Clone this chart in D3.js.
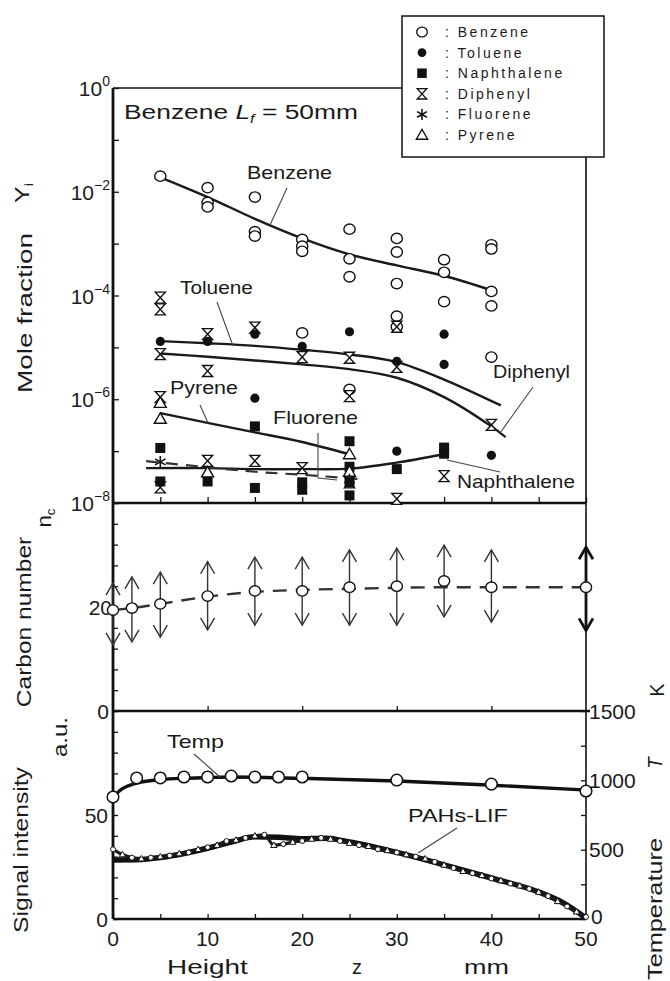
<!DOCTYPE html>
<html><head><meta charset="utf-8">
<script src="https://cdn.jsdelivr.net/npm/d3@7"></script>
<style>
body{margin:0;background:#fff}
svg{display:block}
text{font-family:"Liberation Sans",Arial,sans-serif;fill:#1a1a1a}
</style>
</head><body>
<svg id="c" width="670" height="981"></svg>
<script>
// ---------------- DATA ----------------
const xTicks = [0, 10, 20, 30, 40, 50];
const xMinorTicks = [0, 5, 10, 15, 20, 25, 30, 35, 40, 45, 50];
const topTickVals = [1e-8, 1e-7, 1e-6, 1e-5, 1e-4, 1e-3, 1e-2, 1e-1, 1];
const topLabelVals = [1e-8, 1e-6, 1e-4, 1e-2, 1];
const topLabelExp = ["\u22128", "\u22126", "\u22124", "\u22122", "0"];
const midLabelVals = [0, 20];
const sigLabelVals = [0, 50];
const tempLabelVals = [0, 500, 1000, 1500];

const legendNames = ["Benzene", "Toluene", "Naphthalene", "Diphenyl", "Fluorene", "Pyrene"];
const legendSymbols = ["circle", "dot", "square", "hourglass", "star", "triangle"];

// Mole fraction data (z in mm, Y_i)
const benzeneZ = [5, 10, 10, 10, 15, 15, 15, 20, 20, 20, 20, 25, 25, 25, 25, 30, 30, 30, 30, 30, 35, 35, 35, 40, 40, 40, 40, 40];
const benzeneY = [2.0e-2, 1.2e-2, 6.2e-3, 5.1e-3, 7.9e-3, 1.7e-3, 1.4e-3, 1.2e-3, 8.9e-4, 7.1e-4, 1.9e-5, 1.9e-3, 5.1e-4, 2.3e-4, 1.55e-6, 1.26e-3, 6.9e-4, 1.7e-4, 4.0e-5, 2.5e-5, 4.9e-4, 2.8e-4, 7.6e-5, 9.5e-4, 7.9e-4, 1.2e-4, 6.3e-5, 6.5e-6];
const tolueneZ = [5, 10, 15, 15, 20, 25, 30, 30, 35, 35, 40];
const tolueneY = [1.3e-5, 1.3e-5, 1.8e-5, 1.05e-6, 1.05e-5, 2.0e-5, 5.4e-6, 1.0e-7, 1.8e-5, 4.7e-6, 8.3e-8];
const naphthaleneZ = [5, 5, 10, 15, 15, 20, 20, 25, 25, 25, 25, 30, 35, 35];
const naphthaleneY = [1.15e-7, 2.6e-8, 2.6e-8, 3.0e-7, 1.95e-8, 2.5e-8, 1.8e-8, 1.55e-7, 5.0e-8, 2.5e-8, 1.4e-8, 4.5e-8, 1.17e-7, 8.9e-8];
const diphenylZ = [5, 5, 5, 5, 5, 10, 10, 10, 15, 15, 20, 20, 25, 25, 25, 30, 30, 30, 35, 40];
const diphenylY = [9.1e-5, 5.4e-5, 7.4e-6, 1.1e-6, 2.0e-8, 1.8e-5, 3.5e-6, 6.5e-8, 2.4e-5, 6.5e-8, 6.5e-6, 4.7e-8, 6.3e-6, 1.15e-6, 2.5e-8, 2.5e-5, 4.2e-6, 1.2e-8, 3.3e-8, 3.2e-7];
const fluoreneZ = [5, 25];
const fluoreneY = [6.2e-8, 2.8e-8];
const pyreneZ = [5, 5, 10, 25, 25];
const pyreneY = [8.5e-7, 4.2e-7, 3.9e-8, 8.7e-8, 4.0e-8];

// Fitted curves
const benzeneFitZ = [5, 10, 15, 20, 25, 30, 35, 40];
const benzeneFitY = [1.9e-2, 7.9e-3, 3.0e-3, 1.26e-3, 6.2e-4, 3.8e-4, 2.4e-4, 1.26e-4];
const tolueneFitZ = [5, 10, 15, 20, 25, 30, 35, 41];
const tolueneFitY = [1.32e-5, 1.2e-5, 1.07e-5, 9.0e-6, 7.3e-6, 5.2e-6, 2.4e-6, 7.6e-7];
const diphenylFitZ = [5, 10, 15, 20, 25, 30, 35, 40, 41.5];
const diphenylFitY = [7.6e-6, 6.6e-6, 5.6e-6, 4.7e-6, 3.8e-6, 2.6e-6, 1.1e-6, 3.0e-7, 1.86e-7];
const pyreneFitZ = [5, 10, 15, 20, 25];
const pyreneFitY = [5.4e-7, 3.5e-7, 2.3e-7, 1.5e-7, 8.7e-8];
const naphthaleneFitZ = [3.5, 10, 15, 20, 25, 30, 35];
const naphthaleneFitY = [4.7e-8, 4.7e-8, 4.5e-8, 4.5e-8, 4.6e-8, 6.0e-8, 8.7e-8];
const fluoreneFitZ = [3.5, 10, 15, 20, 26];
const fluoreneFitY = [6.4e-8, 4.9e-8, 4.0e-8, 3.5e-8, 2.9e-8];

// Carbon number
const carbonZ = [0, 2, 5, 10, 15, 20, 25, 30, 35, 40, 50];
const carbonN = [19.4, 19.8, 20.6, 22.1, 23.1, 23.1, 23.8, 24.0, 25.0, 23.8, 23.8];
const carbonUp = [24.6, 25.8, 26.7, 28.7, 29.6, 29.6, 31.0, 31.3, 31.9, 31.0, 31.5];
const carbonDown = [12.7, 13.3, 14.2, 15.6, 16.5, 16.5, 16.5, 16.5, 18.1, 17.1, 15.5];
const carbonLine = [19.4, 19.8, 20.6, 22.0, 22.9, 23.3, 23.5, 23.7, 23.8, 23.8, 23.8];

// Temperature (K)
const tempZ = [0, 2.5, 5, 7.5, 10, 12.5, 15, 17.5, 20, 30, 40, 50];
const tempT = [880, 1017, 1017, 1024, 1024, 1031, 1024, 1024, 1024, 1002, 973, 923];
const tempFitZ = [0, 1, 2, 3, 5, 7.5, 10, 12.5, 15, 20, 30, 40, 50];
const tempFitT = [880, 940, 970, 988, 1005, 1015, 1020, 1024, 1022, 1014, 995, 965, 930];

// PAHs-LIF signal (a.u.)
const lifZ = [0, 1, 2, 3, 4, 5, 6, 7, 8, 9, 10, 11, 12, 13, 14, 15, 16, 17, 18, 19, 20, 21, 22, 23, 24, 25, 26, 27, 28, 29, 30, 31, 32, 33, 34, 35, 36, 37, 38, 39, 40, 41, 42, 43, 44, 45, 46, 47, 48, 49, 50];
const lifS = [33.5, 31, 29.5, 29, 29.5, 30, 30.5, 31.5, 32, 33.5, 34.5, 35.5, 37.5, 38, 39, 40, 40.5, 35.5, 36, 37, 37.5, 38.5, 39, 38.5, 37.5, 36.5, 35.5, 35, 33.5, 33, 32, 31, 30, 29, 27.5, 26, 24.5, 23, 22, 21, 19.5, 18.5, 17, 16, 14.5, 13, 11, 8.5, 6, 3.5, 1];
const lifFitZ = [0, 2.5, 5, 7.5, 10, 12.5, 15, 17.5, 20, 22.5, 25, 30, 35, 40, 45, 47.5, 50];
const lifFitS = [28.4, 28.5, 29.5, 31.5, 34, 37, 39.5, 39.3, 38.6, 38.8, 37, 32, 26, 19.7, 13, 8, 0.5];

// ---------------- SCALES ----------------
const svg = d3.select("#c");
const x = d3.scaleLinear().domain([0, 50]).range([113, 586]);
const yTop = d3.scaleLog().domain([1e-8, 1]).range([503, 88]);
const yMid = d3.scaleLinear().domain([0, 40]).range([711, 503]);
const ySig = d3.scaleLinear().domain([0, 100]).range([919, 711]);
const yTemp = d3.scaleLinear().domain([0, 1500]).range([919, 711]);

const INK = "#111";

// ---------------- HELPERS ----------------
function symbol(g, type, cx, cy, k = 1) {
  const s = g.append("g").attr("transform", `translate(${cx},${cy}) scale(${k})`);
  if (type === "circle") s.append("ellipse").attr("rx", 5.6).attr("ry", 5.2).attr("fill", "#fff").attr("stroke", INK).attr("stroke-width", 1.4);
  else if (type === "dot") s.append("circle").attr("r", 4.6).attr("fill", INK);
  else if (type === "square") s.append("rect").attr("x", -5).attr("y", -5).attr("width", 10).attr("height", 10).attr("fill", INK);
  else if (type === "hourglass") s.append("path").attr("d", "M-5,-5.5H5L-5,5.5H5Z").attr("fill", "#fff").attr("stroke", INK).attr("stroke-width", 1.4);
  else if (type === "star") s.append("path").attr("d", "M0,-6V6M-5.2,-3L5.2,3M-5.2,3L5.2,-3").attr("stroke", INK).attr("stroke-width", 1.6);
  else if (type === "triangle") s.append("path").attr("d", "M0,-6L6,4.5H-6Z").attr("fill", "#fff").attr("stroke", INK).attr("stroke-width", 1.4);
}
function fitH(t, left, baseline, width) {
  const w = t.node().getBBox().width;
  t.attr("transform", `translate(${left},${baseline}) scale(${width / w},1)`);
}
function fitV(t, cx, cy, len) {
  t.attr("text-anchor", "middle").attr("dy", "0.35em");
  const w = t.node().getBBox().width;
  t.attr("transform", `translate(${cx},${cy}) rotate(-90) scale(${len / w},1)`);
}
function label(s, left, baseline, width, size) {
  const t = svg.append("text").attr("font-size", size).text(s);
  fitH(t, left, baseline, width);
  return t;
}
function leader(pts) {
  svg.append("path").attr("d", d3.line()(pts)).attr("fill", "none").attr("stroke", "#444").attr("stroke-width", 1.1);
}

// ---------------- FRAME & AXES ----------------
const noDomain = g => g.select(".domain").remove();
svg.append("g").attr("transform", `translate(${x(0)},0)`)
  .call(d3.axisLeft(yTop).tickValues(topTickVals).tickSize(-6).tickFormat(""))
  .call(noDomain).selectAll("line").attr("stroke", INK).attr("stroke-width", 1.3);
svg.append("g").attr("transform", `translate(0,${yTop(1e-8)})`)
  .call(d3.axisTop(x).tickValues(xMinorTicks).tickSize(6).tickFormat(""))
  .call(noDomain).selectAll("line").attr("stroke", INK).attr("stroke-width", 1.3);
svg.append("g").attr("transform", `translate(${x(0)},0)`)
  .call(d3.axisLeft(yMid).tickValues([0, 4, 8, 12, 16, 20, 24, 28, 32, 36, 40]).tickSize(-5).tickFormat(""))
  .call(noDomain).selectAll("line").attr("stroke", INK).attr("stroke-width", 1.3);
svg.append("g").attr("transform", `translate(0,${yMid(0)})`)
  .call(d3.axisTop(x).tickValues([10, 20, 30, 40]).tickSize(5).tickFormat(""))
  .call(noDomain).selectAll("line").attr("stroke", INK).attr("stroke-width", 1.3);
svg.append("g").attr("transform", `translate(${x(0)},0)`)
  .call(d3.axisLeft(ySig).tickValues(d3.range(0, 101, 10)).tickSize(-5).tickFormat(""))
  .call(noDomain).selectAll("line").attr("stroke", INK).attr("stroke-width", 1.3);
svg.append("g").attr("transform", `translate(${x(50)},0)`)
  .call(d3.axisRight(yTemp).tickValues(d3.range(0, 1501, 250)).tickSize(-5).tickFormat(""))
  .call(noDomain).selectAll("line").attr("stroke", INK).attr("stroke-width", 1.3);
svg.append("g").attr("transform", `translate(0,${ySig(0)})`)
  .call(d3.axisTop(x).tickValues(xMinorTicks).tickSize(5).tickFormat(""))
  .call(noDomain).selectAll("line").attr("stroke", INK).attr("stroke-width", 1.3);

const X0 = x(0), X1 = x(50);
const frame = [
  [X0, yTop(1), X0, ySig(0), 2.8],
  [X0, yTop(1), X1, yTop(1), 1.6],
  [X1, yTop(1), X1, ySig(0), 1.6],
  [X0, yTop(1e-8), X1, yTop(1e-8), 2.4],
  [X0, yMid(0), X1 + 4, yMid(0), 2.4],
  [X0, ySig(0), X1, ySig(0), 2.6]
];
frame.forEach(f => svg.append("line").attr("x1", f[0]).attr("y1", f[1]).attr("x2", f[2]).attr("y2", f[3]).attr("stroke", INK).attr("stroke-width", f[4]));

// ---------------- TICK LABELS ----------------
topLabelVals.forEach((v, i) => {
  const t = svg.append("text").attr("x", 110).attr("y", yTop(v) + 8).attr("text-anchor", "end").attr("font-size", 21);
  t.append("tspan").text("10");
  t.append("tspan").attr("dy", -10).attr("font-size", 14).text(topLabelExp[i]);
});
midLabelVals.forEach(v => svg.append("text").attr("x", v === 0 ? 109 : 112).attr("y", yMid(v) + 7.5).attr("text-anchor", "end").attr("font-size", 21).text(v));
sigLabelVals.forEach(v => svg.append("text").attr("x", 108).attr("y", ySig(v) + 7.5).attr("text-anchor", "end").attr("font-size", 21).text(v));
tempLabelVals.forEach(v => svg.append("text").attr("x", v === 0 ? 591 : 589).attr("y", yTemp(v) + (v === 0 ? 5 : 7.5)).attr("font-size", 21).text(v));
xTicks.forEach(v => svg.append("text").attr("x", x(v)).attr("y", 946).attr("text-anchor", "middle").attr("font-size", 21).text(v));

// ---------------- TOP PANEL ----------------
const lineTop = d3.line().x(d => x(d[0])).y(d => yTop(d[1])).curve(d3.curveCatmullRom.alpha(0.5));
const zipper = (a, b) => a.map((v, i) => [v, b[i]]);
[[benzeneFitZ, benzeneFitY], [tolueneFitZ, tolueneFitY], [diphenylFitZ, diphenylFitY], [pyreneFitZ, pyreneFitY], [naphthaleneFitZ, naphthaleneFitY]]
  .forEach(p => svg.append("path").attr("d", lineTop(zipper(p[0], p[1]))).attr("fill", "none").attr("stroke", "#1a1a1a").attr("stroke-width", 2.4));
svg.append("path").attr("d", lineTop(zipper(fluoreneFitZ, fluoreneFitY))).attr("fill", "none").attr("stroke", "#333").attr("stroke-width", 2.2).attr("stroke-dasharray", "12,8");

const gPts = svg.append("g");
[[benzeneZ, benzeneY, "circle"], [diphenylZ, diphenylY, "hourglass"], [naphthaleneZ, naphthaleneY, "square"],
 [tolueneZ, tolueneY, "dot"], [pyreneZ, pyreneY, "triangle"], [fluoreneZ, fluoreneY, "star"]]
  .forEach(s => s[0].forEach((z, i) => symbol(gPts, s[2], x(z), yTop(s[1][i]))));

const title = svg.append("text").attr("font-size", 21);
title.append("tspan").text("Benzene  ");
title.append("tspan").attr("font-style", "italic").text("L");
title.append("tspan").attr("font-style", "italic").attr("font-size", 13).attr("dy", 4).text("f");
title.append("tspan").attr("dy", -4).text(" = 50mm");
fitH(title, 124, 119, 234);

label("Benzene", 247, 179, 85, 18); leader([[287, 188], [270, 225]]);
label("Toluene", 180, 294, 73, 18); leader([[217, 302], [233, 346]]);
label("Pyrene", 170, 394, 68, 18); leader([[200, 405], [208, 423]]);
label("Fluorene", 273, 424, 85, 18); leader([[318, 433], [318, 478], [337, 480]]);
label("Diphenyl", 493, 378, 77, 18); leader([[533, 387], [500, 433]]);
label("Naphthalene", 457, 488, 118, 18); leader([[447, 460], [500, 472]]);

// legend
const lg = svg.append("g");
lg.append("rect").attr("x", 402).attr("y", 16).attr("width", 202).attr("height", 141).attr("fill", "#fff").attr("stroke", INK).attr("stroke-width", 1.5);
const ly = d3.scalePoint().domain(legendNames).range([32, 135]);
legendNames.forEach((n, i) => {
  symbol(lg, legendSymbols[i], 422, ly(n), 0.95);
  lg.append("text").attr("x", 445).attr("y", ly(n) + 5).attr("font-size", 14).attr("letter-spacing", 2.5).text(": " + n);
});

// ---------------- MIDDLE PANEL ----------------
const lineMid = d3.line().x(d => x(d[0])).y(d => yMid(d[1])).curve(d3.curveMonotoneX);
svg.append("path").attr("d", lineMid(zipper(carbonZ, carbonLine))).attr("fill", "none").attr("stroke", "#333").attr("stroke-width", 2.4).attr("stroke-dasharray", "14,9");
carbonZ.forEach((z, i) => {
  const cx = x(z), bold = z === 50;
  const sw = bold ? 2.8 : 1.4, col = bold ? "#111" : "#333";
  const g = svg.append("g").attr("stroke", col).attr("stroke-width", sw).attr("fill", "none");
  const yu = yMid(carbonUp[i]), yd = yMid(carbonDown[i]);
  g.append("line").attr("x1", cx).attr("x2", cx).attr("y1", yu).attr("y2", yd);
  g.append("path").attr("d", `M${cx - 7},${yu + 12}L${cx},${yu}L${cx + 7},${yu + 12}`);
  g.append("path").attr("d", `M${cx - 7},${yd - 12}L${cx},${yd}L${cx + 7},${yd - 12}`);
  symbol(svg, "circle", cx, yMid(carbonN[i]));
});

// ---------------- BOTTOM PANEL ----------------
const lineSig = d3.line().x(d => x(d[0])).y(d => ySig(d[1])).curve(d3.curveMonotoneX);
const lineTemp = d3.line().x(d => x(d[0])).y(d => yTemp(d[1])).curve(d3.curveMonotoneX);
svg.append("path").attr("d", lineSig(zipper(lifFitZ, lifFitS))).attr("fill", "none").attr("stroke", "#111").attr("stroke-width", 5.5);
svg.append("path").attr("d", lineSig(zipper(lifZ, lifS))).attr("fill", "none").attr("stroke", "#1a1a1a").attr("stroke-width", 3.2);
lifZ.forEach((z, i) => {
  const g = svg.append("g").attr("transform", `translate(${x(z)},${ySig(lifS[i])})`);
  if (i % 2) g.append("path").attr("d", "M0,-3.2L3.2,2.3H-3.2Z").attr("fill", "#fff").attr("stroke", "#111").attr("stroke-width", 1);
  else g.append("circle").attr("r", 2.5).attr("fill", "#fff").attr("stroke", "#111").attr("stroke-width", 1);
});
svg.append("path").attr("d", lineTemp(zipper(tempFitZ, tempFitT))).attr("fill", "none").attr("stroke", "#111").attr("stroke-width", 3.4);
tempZ.forEach((z, i) => svg.append("circle").attr("cx", x(z)).attr("cy", yTemp(tempT[i])).attr("r", 5.8).attr("fill", "#fff").attr("stroke", INK).attr("stroke-width", 1.5));

label("Temp", 167, 748, 57, 18); leader([[194, 754], [220, 777]]);
label("PAHs-LIF", 408, 822, 100, 18); leader([[457, 828], [418, 853]]);

// ---------------- AXIS TITLES ----------------
label("Height", 167, 974, 81, 21);
label("z", 352, 974, 10, 21);
label("mm", 464, 974, 45, 21);

fitV(svg.append("text").attr("font-size", 20).text("Mole fraction"), 25, 313, 160);
const yi = svg.append("text").attr("font-size", 20);
yi.append("tspan").text("Y");
yi.append("tspan").attr("font-size", 12).attr("dy", 4).text("i");
fitV(yi, 22, 193, 20);
fitV(svg.append("text").attr("font-size", 20).text("Carbon number"), 24, 622, 171);
const nc = svg.append("text").attr("font-size", 20);
nc.append("tspan").text("n");
nc.append("tspan").attr("font-size", 12).attr("dy", 4).text("c");
fitV(nc, 44, 518, 19);
fitV(svg.append("text").attr("font-size", 20).text("Signal intensity"), 21, 850, 166);
fitV(svg.append("text").attr("font-size", 20).text("a.u."), 60, 737, 40);
fitV(svg.append("text").attr("font-size", 20).text("K"), 657, 690, 14);
fitV(svg.append("text").attr("font-size", 20).attr("font-style", "italic").text("T"), 655, 763, 13);
fitV(svg.append("text").attr("font-size", 20).text("Temperature"), 655, 909, 142);
</script>
</body></html>
